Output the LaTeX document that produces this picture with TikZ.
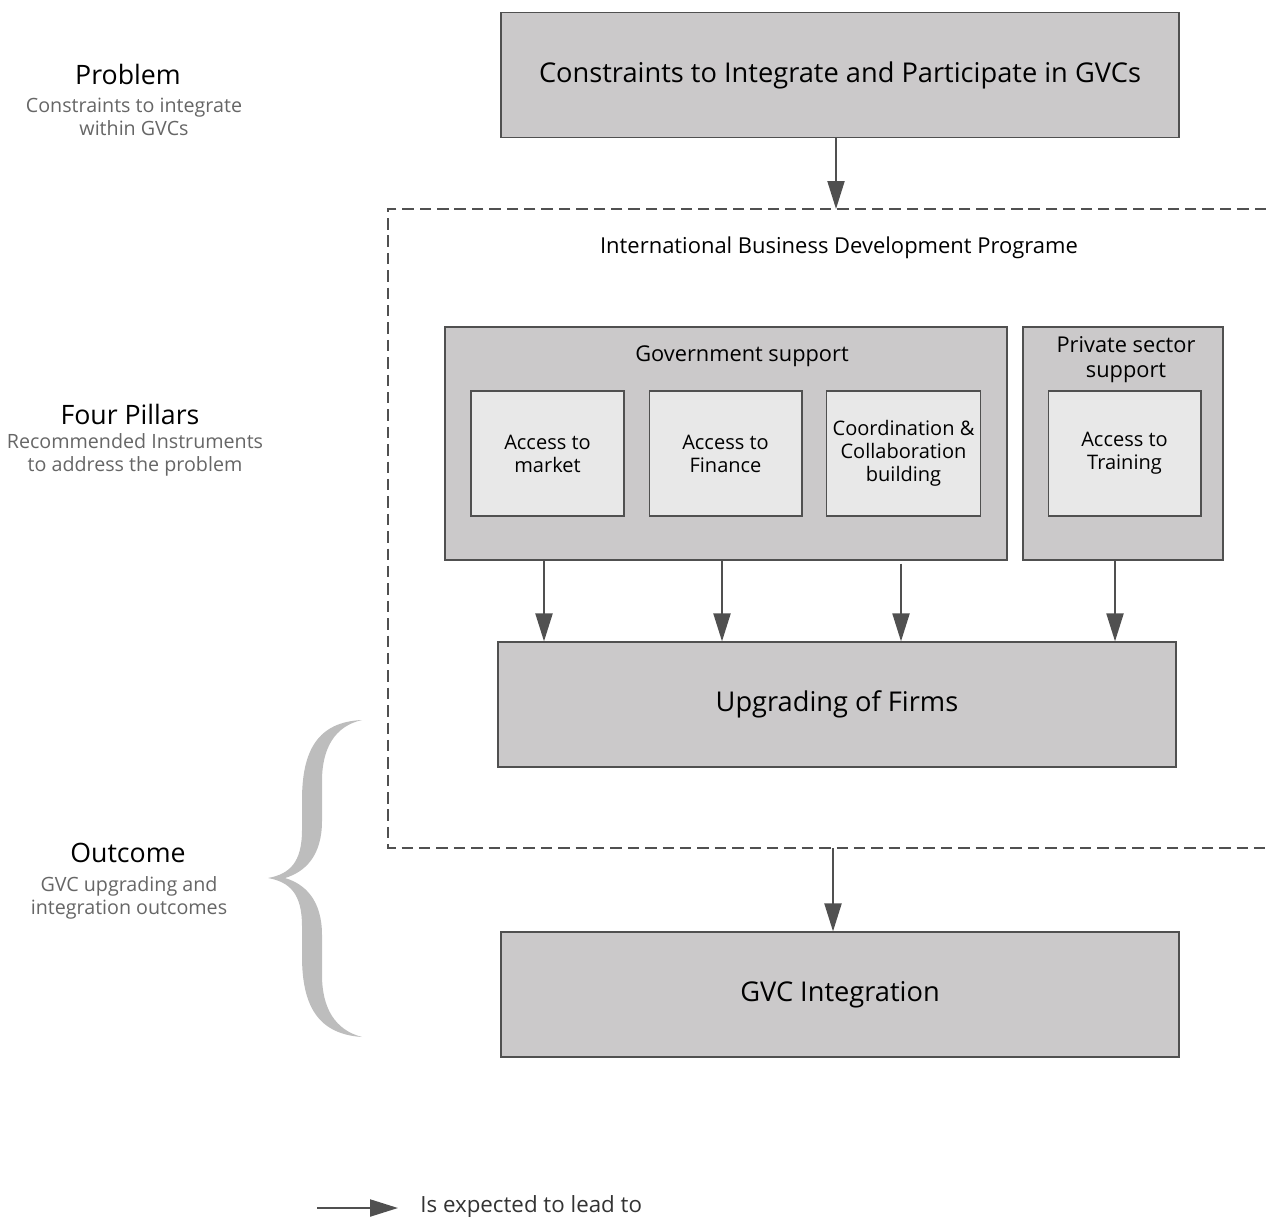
\documentclass[tikz,border=0pt]{standalone}
\usepackage{fontspec}
\setmainfont{Open Sans}
\usetikzlibrary{arrows.meta,calc}
\definecolor{boxgray}{HTML}{CBC9CA}
\definecolor{innergray}{HTML}{E8E8E8}
\definecolor{linegray}{HTML}{505050}
\definecolor{subgray}{HTML}{666666}
\definecolor{bracegray}{HTML}{BDBDBD}
\tikzstyle{bigbox}=[rectangle, draw=linegray, fill=boxgray, line width=0.7pt, minimum width=13.56cm, minimum height=2.5cm, font=\fontsize{15.5}{18}\selectfont]
\tikzstyle{pillar}=[rectangle, draw=linegray, fill=boxgray, line width=0.7pt, minimum height=4.66cm]
\tikzstyle{instr}=[rectangle, draw=linegray, fill=innergray, line width=0.6pt, minimum width=3.06cm, minimum height=2.5cm, align=center, font=\fontsize{11.4}{13.1}\selectfont]
\tikzstyle{head}=[font=\fontsize{15.2}{18}\selectfont, text=black]
\tikzstyle{sub}=[font=\fontsize{11.2}{13.1}\selectfont, text=subgray, align=center]
\tikzstyle{lead}=[draw=linegray, line width=1.2pt, -{Triangle[length=0.56cm, width=0.34cm]}]

\begin{document}
\begin{tikzpicture}[x=0.02cm, y=-0.02cm]
		\useasboundingbox (0,0) rectangle (1266,1216);
		% left column
		\node[head](hprob) at (128,74) {Problem};
		\node[sub](sprob) at (134,117) {Constraints to integrate\\within GVCs};
		\node[head](hpill) at (130,414) {Four Pillars};
		\node[sub](spill) at (135,455) {Recommended Instruments\\to address the problem};
		\node[head](hout) at (128,853) {Outcome};
		\node[sub](sout) at (129,898) {GVC upgrading and\\integration outcomes};
		\path[fill=bracegray] (362,720) .. controls (318,722) and (302,750) .. (302,800)
			-- (302,830) .. controls (302,862) and (290,874) .. (268,878)
			.. controls (290,882) and (302,894) .. (302,926)
			-- (302,956) .. controls (302,1006) and (318,1034) .. (362,1037)
			.. controls (335,1030) and (322,1008) .. (322,975)
			-- (322,935) .. controls (322,900) and (305,884) .. (285,878)
			.. controls (305,872) and (322,856) .. (322,821)
			-- (322,781) .. controls (322,748) and (335,726) .. (362,720) -- cycle;
		% boxes
		\node[bigbox](top) at (840,75) {Constraints to Integrate and Participate in GVCs};
		\path[draw=linegray, line width=1.4pt, dash pattern=on 6.5pt off 3.4pt]
			(1266,209) -- (388,209) -- (388,848) -- (1266,848);
		\coordinate (prgtop) at (836,209);
		\coordinate (prgbot) at (833,848);
		\node[font=\fontsize{12.5}{15}\selectfont](prg) at (839,248) {International Business Development Programe};
		\node[pillar, minimum width=11.24cm](gov) at (726,443.5) {};
		\node[font=\fontsize{12.4}{14}\selectfont](govlbl) at (742,356) {Government support};
		\node[instr](acm) at (547.5,453.5) {Access to\\market};
		\node[instr](acf) at (725.5,453.5) {Access to\\Finance};
		\node[instr](coo) at (903.5,453.5) {Coordination \&\\Collaboration\\building};
		\node[pillar, minimum width=4cm](priv) at (1123,443.5) {};
		\node[font=\fontsize{12.4}{14.2}\selectfont, align=center](privlbl) at (1126,360) {Private sector\\support};
		\node[instr](trn) at (1124.5,453.5) {Access to\\Training};
		\node[bigbox](upg) at (837,704.5) {Upgrading of Firms};
		\node[bigbox](gvc) at (840,994.5) {GVC Integration};
		% arrows
		\draw[lead] (prgtop |- top.south) -- (prgtop);
		\draw[lead] ($(gov.south)+(-182,0)$) -- ($(gov.south |- upg.north)+(-182,0)$);
		\draw[lead] ($(gov.south)+(-4,0)$) -- ($(gov.south |- upg.north)+(-4,0)$);
		\draw[lead] ($(gov.south)+(175,3)$) -- ($(gov.south |- upg.north)+(175,0)$);
		\draw[lead] ($(priv.south)+(-8,0)$) -- ($(priv.south |- upg.north)+(-8,0)$);
		\draw[lead] (prgbot) -- (prgbot |- gvc.north);
		% legend
		\coordinate (lgs) at (317,1208);
		\coordinate (lge) at (398,1208);
		\draw[lead] (lgs) -- (lge);
		\node[anchor=west, font=\fontsize{12.7}{15}\selectfont, text=black!80, inner sep=0pt](lgt) at (420,1207) {Is expected to lead to};
	\end{tikzpicture}
\end{document}
